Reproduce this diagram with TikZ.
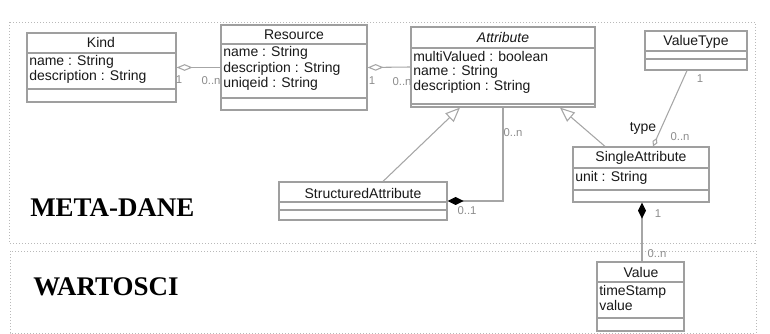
\documentclass[tikz,border=0pt]{standalone}
\usepackage{fontspec}
\setmainfont{Liberation Serif}
\newfontfamily\umlfont{Liberation Sans}
\usetikzlibrary{arrows.meta,fit}

\begin{document}
\begin{tikzpicture}[x=0.75pt,y=-0.75pt,
  classbox/.style={draw=gray!75, line width=0.9pt, inner sep=0pt, fill=white},
  sep/.style={draw=gray!75, line width=0.9pt},
  clstitle/.style={font=\umlfont\fontsize{10.5}{12}\selectfont, text=black!90, inner sep=0pt},
  attr/.style={font=\umlfont\fontsize{10.5}{12}\selectfont, text=black!90, anchor=west, inner sep=0pt},
  mult/.style={font=\umlfont\fontsize{8.5}{10}\selectfont, text=gray!90, inner sep=0pt},
  rolename/.style={font=\umlfont\fontsize{10.5}{12}\selectfont, text=black!90, inner sep=0pt},
  link/.style={draw=gray!70, line width=0.8pt},
  pkg/.style={draw=gray!55, line width=0.6pt, dash pattern=on 0.75pt off 1.5pt},
  pkglabel/.style={font=\bfseries\fontsize{20.2}{22}\selectfont, anchor=west, inner sep=0pt},
  agg/.style={{Diamond[open,length=12pt,width=5pt]}-},
  smallagg/.style={-{Diamond[open,length=7pt,width=4pt]}},
  comp/.style={{Diamond[length=12pt,width=6pt,color=black]}-},
  gen/.style={-{Triangle[open,length=11pt,width=9pt]}},
]
\useasboundingbox (0,0) rectangle (770,334);

% packages
\draw[pkg] (9,22) rectangle (755,243);
\draw[pkg] (10,251) rectangle (756,333);
\node[pkglabel] (meta) at (30,208) {META-DANE};
\node[pkglabel] (wart) at (33,287) {WARTOSCI};

% Kind
\node[classbox, fit={(27,33) (176,102)}] (kind) {};
\draw[sep] (27,53) -- (176,53);
\draw[sep] (27,89) -- (176,89);
\node[clstitle] (kindt) at (101,43) {Kind};
\node[attr] (kinda1) at (29,62) {name : String};
\node[attr] (kinda2) at (29,77) {description : String};

% Resource
\node[classbox, fit={(221,25) (367,110)}] (resource) {};
\draw[sep] (221,44) -- (367,44);
\draw[sep] (221,98) -- (367,98);
\node[clstitle] (rest) at (294,35) {Resource};
\node[attr] (resa1) at (223,53) {name : String};
\node[attr] (resa2) at (223,69) {description : String};
\node[attr] (resa3) at (223,84) {uniqeid : String};

% Attribute (abstract)
\node[classbox, fit={(411,27) (595,107)}] (attribute) {};
\draw[sep] (411,48) -- (595,48);
\draw[sep] (411,104) -- (595,104);
\node[clstitle, font=\umlfont\itshape\fontsize{10.5}{12}\selectfont] (attt) at (503,38) {Attribute};
\node[attr] (atta1) at (413,57) {multiValued : boolean};
\node[attr] (atta2) at (413,72) {name : String};
\node[attr] (atta3) at (413,87) {description : String};

% ValueType
\node[classbox, fit={(645,31) (747,70)}] (valuetype) {};
\draw[sep] (645,51) -- (747,51);
\draw[sep] (645,59) -- (747,59);
\node[clstitle] (vtt) at (696,42) {ValueType};

% StructuredAttribute
\node[classbox, fit={(279,182) (447,220)}] (structured) {};
\draw[sep] (279,202) -- (447,202);
\draw[sep] (279,210) -- (447,210);
\node[clstitle] (stt) at (363,193) {StructuredAttribute};

% SingleAttribute
\node[classbox, fit={(573,147) (709,202)}] (single) {};
\draw[sep] (573,168) -- (709,168);
\draw[sep] (573,190) -- (709,190);
\node[clstitle] (sgt) at (641,158) {SingleAttribute};
\node[attr] (sga1) at (575,178) {unit : String};

% Value
\node[classbox, fit={(597,262) (684,331)}] (value) {};
\draw[sep] (597,282) -- (684,282);
\draw[sep] (597,318) -- (684,318);
\node[clstitle] (valt) at (641,272) {Value};
\node[attr] (vala1) at (599,292) {timeStamp};
\node[attr] (vala2) at (599,305) {value};

% associations
\draw[link, agg] (kind.east) -- (resource.west);
\draw[link, agg] (resource.east) -- (attribute.west);
\draw[link, gen] (structured.north -| 383,0) -- (attribute.south -| 460,0);
\draw[link, comp] (structured.east) -| (attribute.south -| 503,0);
\draw[link, gen] (single.north -| 605,0) -- (attribute.south -| 560,0);
\draw[link, smallagg] (valuetype.south -| 687,0) -- (single.north -| 653,0);
\draw[link, comp] (single.south -| 642,0) -- (value.north -| 642,0);

% multiplicities and role names
\node[mult] (m1) at (179,80) {1};
\node[mult] (m2) at (211,81) {0..n};
\node[mult] (m3) at (372,81) {1};
\node[mult] (m4) at (402,82) {0..n};
\node[mult] (m5) at (513,133) {0..n};
\node[mult] (m6) at (467,211) {0..1};
\node[mult] (m7) at (700,79) {1};
\node[rolename] (r1) at (643,128) {type};
\node[mult] (m8) at (680,137) {0..n};
\node[mult] (m9) at (658,214) {1};
\node[mult] (m10) at (657,254) {0..n};
\end{tikzpicture}
\end{document}
